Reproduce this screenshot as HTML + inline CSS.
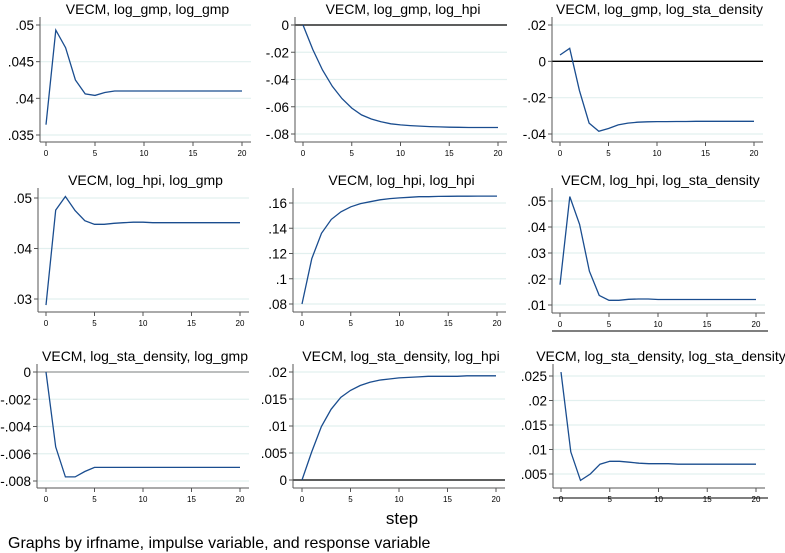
<!DOCTYPE html>
<html><head><meta charset="utf-8">
<style>
html,body{margin:0;padding:0;background:#fff;width:785px;height:553px;overflow:hidden}
svg{position:absolute;left:0;top:0}
text{font-family:"Liberation Sans",sans-serif;fill:#000}
</style></head>
<body>
<svg id="chart" width="785" height="553" viewBox="0 0 785 553">
<text x="402" y="524" font-size="17" text-anchor="middle">step</text>
<text x="8" y="548" font-size="16">Graphs by irfname, impulse variable, and response variable</text>
</svg>
<script>
const steps = [0,1,2,3,4,5,6,7,8,9,10,11,12,13,14,15,16,17,18,19,20];
const xTicks = [0,5,10,15,20];
const titles = ["VECM, log_gmp, log_gmp","VECM, log_gmp, log_hpi","VECM, log_gmp, log_sta_density",
"VECM, log_hpi, log_gmp","VECM, log_hpi, log_hpi","VECM, log_hpi, log_sta_density",
"VECM, log_sta_density, log_gmp","VECM, log_sta_density, log_hpi","VECM, log_sta_density, log_sta_density"];
const s1 = [.0364,.0493,.0469,.0425,.0406,.0404,.0408,.0410,.0410,.0410,.0410,.0410,.0410,.0410,.0410,.0410,.0410,.0410,.0410,.0410,.0410];
const s2 = [0,-.018,-.033,-.045,-.054,-.061,-.066,-.069,-.071,-.0725,-.0733,-.0738,-.0742,-.0746,-.0748,-.075,-.0751,-.0752,-.0752,-.0752,-.0752];
const s3 = [.0035,.0072,-.016,-.034,-.0385,-.037,-.035,-.034,-.0335,-.0333,-.0332,-.0332,-.0331,-.0331,-.033,-.033,-.033,-.033,-.033,-.033,-.033];
const s4 = [.0288,.0476,.0503,.0475,.0455,.0448,.0448,.0450,.0451,.0452,.0452,.0451,.0451,.0451,.0451,.0451,.0451,.0451,.0451,.0451,.0451];
const s5 = [.080,.116,.136,.147,.153,.157,.1595,.161,.1625,.1635,.164,.1645,.165,.165,.1652,.1653,.1654,.1654,.1655,.1655,.1655];
const s6 = [.0178,.0517,.0410,.0230,.0137,.0118,.0118,.0122,.0123,.0123,.0121,.0121,.0121,.0121,.0121,.0121,.0121,.0121,.0121,.0121,.0121];
const s7 = [0,-.0055,-.0077,-.0077,-.0073,-.0070,-.0070,-.0070,-.0070,-.0070,-.0070,-.0070,-.0070,-.0070,-.0070,-.0070,-.0070,-.0070,-.0070,-.0070,-.0070];
const s8 = [0,.0052,.0099,.0131,.0153,.0166,.0175,.0181,.0185,.0187,.0189,.0190,.0191,.0192,.0192,.0192,.0192,.0193,.0193,.0193,.0193];
const s9 = [.0258,.0095,.0037,.0050,.0070,.0076,.0076,.0074,.0072,.0071,.0071,.0071,.0070,.0070,.0070,.0070,.0070,.0070,.0070,.0070,.0070];
const yt1 = [.035,.04,.045,.05], yl1 = [".035",".04",".045",".05"];
const yt2 = [-.08,-.06,-.04,-.02,0], yl2 = ["-.08","-.06","-.04","-.02","0"];
const yt3 = [-.04,-.02,0,.02], yl3 = ["-.04","-.02","0",".02"];
const yt4 = [.03,.04,.05], yl4 = [".03",".04",".05"];
const yt5 = [.08,.1,.12,.14,.16], yl5 = [".08",".1",".12",".14",".16"];
const yt6 = [.01,.02,.03,.04,.05], yl6 = [".01",".02",".03",".04",".05"];
const yt7 = [-.008,-.006,-.004,-.002,0], yl7 = ["-.008","-.006","-.004","-.002","0"];
const yt8 = [0,.005,.01,.015,.02], yl8 = ["0",".005",".01",".015",".02"];
const yt9 = [.005,.01,.015,.02,.025], yl9 = [".005",".01",".015",".02",".025"];

const NS = "http://www.w3.org/2000/svg";
const svg = document.getElementById("chart");
function mk(tag, attrs, parent){const e=document.createElementNS(NS,tag);for(const k in attrs)e.setAttribute(k,attrs[k]);(parent||svg).appendChild(e);return e;}

const layout = [
 {ax:40,x0:46,x20:242,top:17,bot:142,v1:.05,p1:25,v2:.035,p2:135,zero:null,extra:null},
 {ax:295,x0:303,x20:498,top:17,bot:142,v1:0,p1:25,v2:-.08,p2:134,zero:"#000",extra:null},
 {ax:552,x0:560,x20:754,top:17,bot:142,v1:.02,p1:25,v2:-.04,p2:134,zero:"#000",extra:null},
 {ax:38,x0:46,x20:240,top:188,bot:312,v1:.05,p1:198,v2:.03,p2:299,zero:null,extra:null},
 {ax:293,x0:302,x20:497,top:188,bot:312,v1:.16,p1:203,v2:.08,p2:304,zero:null,extra:null},
 {ax:552,x0:560,x20:756,top:188,bot:313,v1:.05,p1:201,v2:.01,p2:305,zero:null,extra:331},
 {ax:37,x0:46,x20:240,top:364,bot:488,v1:0,p1:372,v2:-.008,p2:481,zero:"#999",extra:null},
 {ax:293,x0:302,x20:496,top:364,bot:488,v1:.02,p1:372,v2:0,p2:480,zero:"#000",extra:null},
 {ax:553,x0:561,x20:756,top:364,bot:488,v1:.025,p1:376,v2:.005,p2:474,zero:null,extra:498}
];
const series = [s1,s2,s3,s4,s5,s6,s7,s8,s9];
const yts = [yt1,yt2,yt3,yt4,yt5,yt6,yt7,yt8,yt9];
const yls = [yl1,yl2,yl3,yl4,yl5,yl6,yl7,yl8,yl9];

layout.forEach((L,i)=>{
  const g = mk("g",{});
  
  
  const xs = s => L.x0 + (s-0)/(20-0)*(L.x20-L.x0);
  const ys = v => L.p2 + (v-L.v2)/(L.v1-L.v2)*(L.p1-L.p2);
  const right = L.x20 + 9;
  const t = mk("text",{x:(L.ax+right)/2+2,y:L.top-3,"font-size":"14","text-anchor":"middle"},g);
  t.textContent = titles[i];
  
  
  yts[i].forEach((v,j)=>{
    const y = ys(v);
    const gl = mk("line",{x1:L.ax,x2:right,y1:y,y2:y,stroke:"#e2f0ef","stroke-width":"1.2"},g);
    
    
    mk("line",{x1:L.ax-4,x2:L.ax,y1:y,y2:y,stroke:"#555","stroke-width":"1"},g);
    const lb = mk("text",{x:L.ax-6,y:y+5,"font-size":"13.5","text-anchor":"end"},g);
    lb.textContent = yls[i][j];
    
    
  });
  if (L.zero){
    const z = ys(0);
    const zl = mk("line",{x1:L.ax,x2:right,y1:z,y2:z,stroke:L.zero,"stroke-width":"1.3"},g);
    
    
  }
  mk("line",{x1:L.ax,x2:L.ax,y1:L.top,y2:L.bot,stroke:"#555","stroke-width":"1"},g);
  mk("line",{x1:L.ax,x2:right,y1:L.bot,y2:L.bot,stroke:"#555","stroke-width":"1"},g);
  if (L.extra){
    mk("line",{x1:L.ax,x2:right+3,y1:L.extra,y2:L.extra,stroke:"#333","stroke-width":"1.2"},g);
  }
  xTicks.forEach(s=>{
    const x = xs(s);
    mk("line",{x1:x,x2:x,y1:L.bot,y2:L.bot+4,stroke:"#555","stroke-width":"1"},g);
    const lb = mk("text",{x:x,y:L.bot+14,"font-size":"8","text-anchor":"middle",fill:"#333"},g);
    lb.textContent = s;
    
    
  });
  const pts = steps.map((s,k)=>xs(s).toFixed(1)+","+ys(series[i][k]).toFixed(1)).join(" ");
  const pl = mk("polyline",{points:pts,fill:"none",stroke:"#1a4d8f","stroke-width":"1.3"},g);
  
  
});
</script>
</body></html>
